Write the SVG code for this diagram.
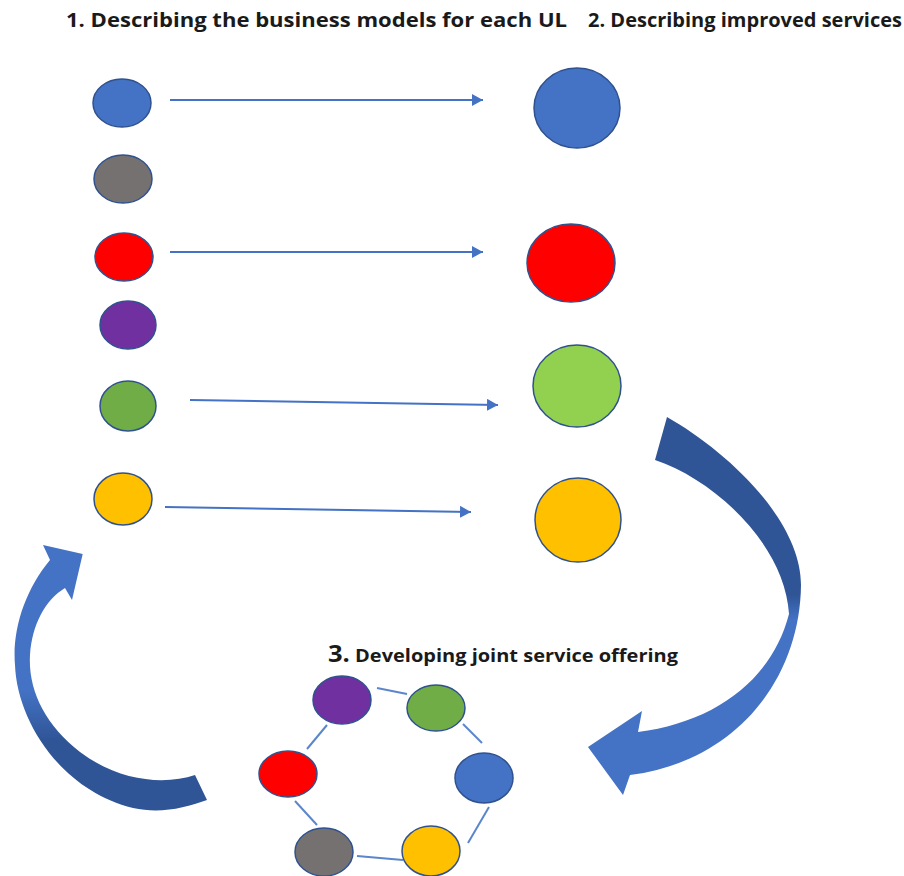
<svg xmlns="http://www.w3.org/2000/svg" width="904" height="876" viewBox="0 0 904 876">
  <style>
    .title { font-family: "Open Sans", "Liberation Sans", sans-serif; font-weight: 700; fill: #1a1a1a; }
    .node { stroke: #2F528F; stroke-width: 1.5; }
    .blue { fill: #4472C4; }
    .gray { fill: #767171; }
    .red { fill: #FF0000; }
    .purple { fill: #7030A0; }
    .green { fill: #70AD47; }
    .lgreen { fill: #92D050; }
    .yellow { fill: #FFC000; }
    .flow { stroke: #4472C4; stroke-width: 2; fill: none; marker-end: url(#head); }
    .ring { stroke: #5B86CC; stroke-width: 2; fill: none; }
  </style>
  <defs>
    <marker id="head" markerUnits="userSpaceOnUse" markerWidth="12" markerHeight="12" refX="11" refY="6" orient="auto">
      <path d="M0,0 L11,6 L0,12 Z" fill="#4472C4"/>
    </marker>
    <linearGradient id="leftArc" gradientUnits="userSpaceOnUse" x1="0" y1="690" x2="0" y2="740">
      <stop offset="0" stop-color="#4472C4"/>
      <stop offset="1" stop-color="#2F5597"/>
    </linearGradient>
    <linearGradient id="rightArc" gradientUnits="userSpaceOnUse" x1="0" y1="595" x2="0" y2="620">
      <stop offset="0" stop-color="#2F5597"/>
      <stop offset="1" stop-color="#4472C4"/>
    </linearGradient>
  </defs>

  <rect width="904" height="876" fill="#ffffff"/>

  <!-- headings -->
  <g id="headings">
    <text class="title" x="66" y="27" font-size="20" textLength="501" lengthAdjust="spacingAndGlyphs">1. Describing the business models for each UL</text>
    <text class="title" x="588" y="27" font-size="20" textLength="314" lengthAdjust="spacingAndGlyphs">2. Describing improved services</text>
    <text class="title" x="328" y="662" font-size="18" textLength="350" lengthAdjust="spacingAndGlyphs"><tspan font-size="23">3.</tspan> Developing joint service offering</text>
  </g>

  <!-- connectors -->
  <g id="connectors">
    <line class="flow" x1="170" y1="100" x2="483" y2="100"/>
    <line class="flow" x1="170" y1="252" x2="483" y2="252"/>
    <line class="flow" x1="190" y1="400" x2="498" y2="405"/>
    <line class="flow" x1="165" y1="507" x2="471" y2="512"/>

    <line class="ring" x1="377" y1="688" x2="407" y2="694"/>
    <line class="ring" x1="463" y1="724" x2="482" y2="743"/>
    <line class="ring" x1="489" y1="807" x2="468" y2="843"/>
    <line class="ring" x1="357" y1="856" x2="403" y2="860"/>
    <line class="ring" x1="317" y1="825" x2="295" y2="801"/>
    <line class="ring" x1="307" y1="749" x2="327" y2="725"/>

    <!-- big curved arrows of the cycle -->
    <path id="arc-to-offering" fill="url(#rightArc)" d="M667,417 C727,451 801,520 801,585 C800,680 735,762 630,775 L623,795 L588,747 L642,711 L638,732 C715,722 772,680 789,614 C785,545 715,480 655,460 Z"/>
    <path id="arc-to-models" fill="url(#leftArc)" d="M82.7,554 L43,545 L50,560 C25,590 12,630 15,665 C17,720 60,790 133,808 C160,814 185,808 207,800 L195,775 C165,785 120,782 80,752 C45,725 28,690 30,655 C32,625 45,600 65,588 L72,600 Z"/>
  </g>

  <!-- column 1: business models -->
  <g id="ul-blue"><ellipse class="node blue" cx="122" cy="103" rx="29" ry="24"/></g>
  <g id="ul-gray"><ellipse class="node gray" cx="123" cy="179" rx="29" ry="24"/></g>
  <g id="ul-red"><ellipse class="node red" cx="124" cy="257" rx="29" ry="24"/></g>
  <g id="ul-purple"><ellipse class="node purple" cx="128" cy="325" rx="28" ry="24"/></g>
  <g id="ul-green"><ellipse class="node green" cx="128" cy="406" rx="28" ry="25"/></g>
  <g id="ul-yellow"><ellipse class="node yellow" cx="123" cy="499" rx="29" ry="26"/></g>

  <!-- column 2: improved services -->
  <g id="svc-blue"><ellipse class="node blue" cx="577" cy="108" rx="43" ry="40"/></g>
  <g id="svc-red"><ellipse class="node red" cx="571" cy="263" rx="44" ry="39"/></g>
  <g id="svc-green"><ellipse class="node lgreen" cx="577" cy="386" rx="44" ry="41"/></g>
  <g id="svc-yellow"><ellipse class="node yellow" cx="578" cy="520" rx="43" ry="42"/></g>

  <!-- joint offering ring -->
  <g id="joint-purple"><ellipse class="node purple" cx="342" cy="700" rx="29" ry="24"/></g>
  <g id="joint-green"><ellipse class="node green" cx="436" cy="708" rx="29" ry="23"/></g>
  <g id="joint-blue"><ellipse class="node blue" cx="484" cy="778" rx="29" ry="25"/></g>
  <g id="joint-red"><ellipse class="node red" cx="288" cy="774" rx="29" ry="23"/></g>
  <g id="joint-gray"><ellipse class="node gray" cx="324" cy="852" rx="29" ry="24"/></g>
  <g id="joint-yellow"><ellipse class="node yellow" cx="431" cy="851" rx="29" ry="25"/></g>
</svg>
